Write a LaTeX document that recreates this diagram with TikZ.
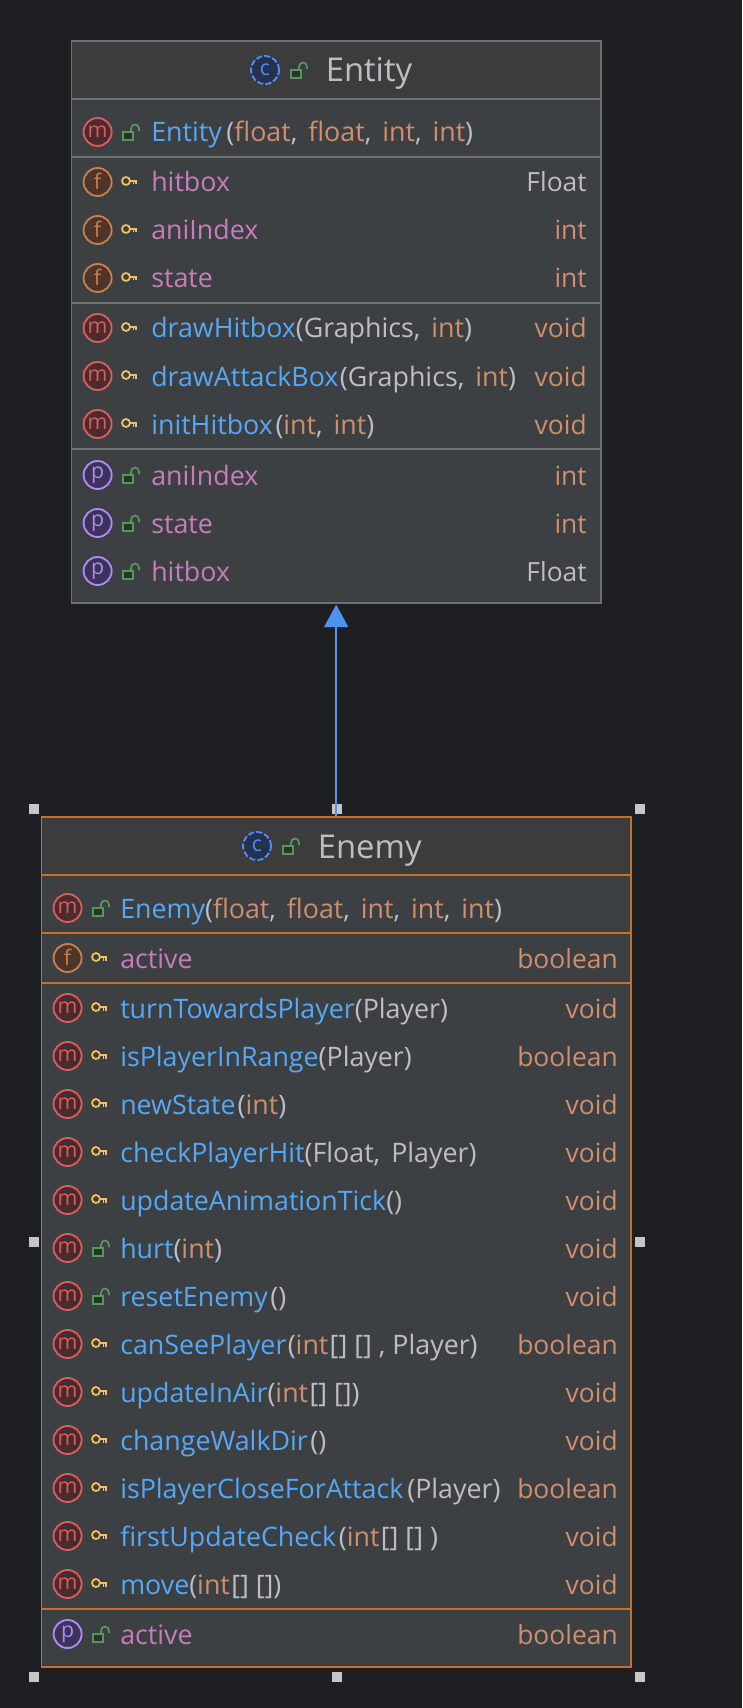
\documentclass[tikz,border=0pt]{standalone}
\usepackage{fontspec}
\setmainfont{Open Sans}
\usetikzlibrary{arrows.meta}
\definecolor{bgc}{HTML}{1E1F22}
\definecolor{headc}{HTML}{3C3C3C}
\definecolor{bodyc}{HTML}{3D4043}
\definecolor{grayline}{HTML}{6F7073}
\definecolor{orangeline}{HTML}{C4702B}
\definecolor{tblue}{HTML}{56A8F5}
\definecolor{arrowc}{HTML}{4D94F0}
\definecolor{tpurple}{HTML}{C77DBB}
\definecolor{torange}{HTML}{CF8E6D}
\definecolor{tgray}{HTML}{BCBEC4}
\definecolor{handlec}{HTML}{C6C6C6}
\definecolor{mline}{HTML}{DB5C5C}\definecolor{mfill}{HTML}{4A2B2E}
\definecolor{fline}{HTML}{C77F50}\definecolor{ffill}{HTML}{4D3529}
\definecolor{pline}{HTML}{B189F5}\definecolor{pfill}{HTML}{3B3358}
\definecolor{cline}{HTML}{548AF7}\definecolor{cfill}{HTML}{25324D}
\definecolor{lockc}{HTML}{57965C}\definecolor{lockf}{HTML}{253627}
\definecolor{keyc}{HTML}{F2C55C}
\newcommand{\nm}[1]{\textcolor{tblue}{#1}}
\newcommand{\fd}[1]{\textcolor{tpurple}{#1}}
\newcommand{\ty}[1]{\textcolor{torange}{#1}}
\newcommand{\gy}[1]{\textcolor{tgray}{#1}}
\newcommand{\cmm}{\gy{, }\kern3pt}
\tikzset{
  x=0.75pt,y=-0.75pt,
  classbox/.style={draw=#1,fill=bodyc,line width=1.125pt,inner sep=0pt,rectangle},
  divider/.style={draw=#1,line width=1.5pt},
  rowtext/.style={inner sep=0pt,font=\fontsize{20.1pt}{24pt}\selectfont},
  typetext/.style={inner sep=0pt,font=\fontsize{19.8pt}{24pt}\selectfont},
  titletext/.style={inner sep=0pt,text=tgray,font=\fontsize{24.6pt}{29pt}\selectfont},
  badge/.style={circle,inner sep=0pt,minimum size=21pt,line width=1.4pt,font=\fontsize{16pt}{18pt}\selectfont},
  m/.style={badge,draw=mline,fill=mfill,text=mline},
  f/.style={badge,draw=fline,fill=ffill,text=fline},
  p/.style={badge,draw=pline,fill=pfill,text=pline},
  cbadge/.style={badge,draw=cline,fill=cfill,text=cline,dash pattern=on 4.6pt off 1.6pt},
  handle/.style={fill=handlec,inner sep=0pt,minimum size=7.5pt,rectangle},
  lockmark/.pic={
    \draw[lockc,line width=1.3pt,fill=lockf] (-8,0) rectangle (2,8);
    \draw[lockc,line width=1.3pt] (0,0) -- (0,-3) .. controls (0,-9) and (8,-9) .. (8,-3) -- (8,-1);
  },
  keymark/.pic={
    \draw[keyc,line width=1.3pt] (-3,-1) circle[radius=3pt];
    \draw[keyc,line width=1.3pt] (1.2,-1) -- (8,-1) (4.5,-1) -- (4.5,2.5) (7.3,-1) -- (7.3,2.5);
  },
}
% class row: name, badge, marker pic, centre y, left text, right text
\newcommand{\classrow}[6]{%
  \node[#2] (#1-icon) at (\ix,#4) {\raisebox{0.9pt}{#2}};
  \pic at (\csname #3x\endcsname,#4) {#3};
  \node[rowtext,anchor=base west] (#1-text) at (\tx,#4+10) {#5};
  \node[typetext,anchor=base east] (#1-type) at (\rx,#4+10) {#6};
}
\begin{document}
\begin{tikzpicture}
\useasboundingbox (0,0) rectangle (742,1708);
\fill[bgc] (0,0) rectangle (742,1708);
% ---------- Entity
\node[classbox=grayline,minimum width=397pt,minimum height=421.5pt] (entity) at (336.2,322) {};
\fill[headc] (72.2,41.8) rectangle (600.2,98);
\foreach \yy in {99,157,303,449} \draw[divider=grayline] (72.2,\yy) -- (600.2,\yy);
\node[cbadge] (entity-c) at (265,70) {\raisebox{0.9pt}{c}};
\pic at (299,70) {lockmark};
\node[titletext,anchor=base west] (entity-title) at (325.5,82) {Entity};
\def\ix{97.6}\def\lockmarkx{131}\def\keymarkx{129}\def\tx{151}\def\rx{587}
\classrow{e1}{m}{lockmark}{132}{\nm{Entity}\kern3.5pt\gy{(}\ty{float}\cmm\ty{float}\cmm\ty{int}\cmm\ty{int}\gy{)}}{}
\classrow{e2}{f}{keymark}{182}{\fd{hitbox}}{\gy{Float}}
\classrow{e3}{f}{keymark}{230}{\fd{aniIndex}}{\ty{int}}
\classrow{e4}{f}{keymark}{278}{\fd{state}}{\ty{int}}
\classrow{e5}{m}{keymark}{328}{\nm{drawHitbox}\gy{(Graphics}\cmm\ty{int}\gy{)}}{\ty{void}}
\classrow{e6}{m}{keymark}{376}{\nm{drawAttackBox}\kern1pt\gy{(Graphics}\cmm\ty{int}\gy{)}}{\ty{void}}
\classrow{e7}{m}{keymark}{424}{\nm{initHitbox}\kern2pt\gy{(}\ty{int}\cmm\ty{int}\gy{)}}{\ty{void}}
\classrow{e8}{p}{lockmark}{475}{\fd{aniIndex}}{\ty{int}}
\classrow{e9}{p}{lockmark}{523}{\fd{state}}{\ty{int}}
\classrow{e10}{p}{lockmark}{571}{\fd{hitbox}}{\gy{Float}}
% ---------- Enemy
\node[classbox=orangeline,minimum width=442pt,minimum height=637.5pt] (enemy) at (336.2,1242) {};
\fill[headc] (42.2,818) rectangle (630.2,874);
\foreach \yy in {875,933,983,1609} \draw[divider=orangeline] (42.2,\yy) -- (630.2,\yy);
\node[cbadge] (enemy-c) at (257,846) {\raisebox{0.9pt}{c}};
\pic at (291,846) {lockmark};
\node[titletext,anchor=base west] (enemy-title) at (317.5,858) {Enemy};
\def\ix{67.6}\def\lockmarkx{101}\def\keymarkx{99}\def\tx{120}\def\rx{618}
\classrow{n1}{m}{lockmark}{908}{\nm{Enemy}\gy{(}\ty{float}\cmm\ty{float}\cmm\ty{int}\cmm\ty{int}\cmm\ty{int}\gy{)}}{}
\classrow{n2}{f}{keymark}{958}{\fd{active}}{\ty{boolean}}
\classrow{n3}{m}{keymark}{1008}{\nm{turnTowardsPlayer}\gy{(Player)}}{\ty{void}}
\classrow{n4}{m}{keymark}{1056}{\nm{isPlayerInRange}\gy{(Player)}}{\ty{boolean}}
\classrow{n5}{m}{keymark}{1104}{\nm{newState}\kern1.5pt\gy{(}\ty{int}\gy{)}}{\ty{void}}
\classrow{n6}{m}{keymark}{1152}{\nm{checkPlayerHit}\gy{(Float}\cmm\gy{Player)}}{\ty{void}}
\classrow{n7}{m}{keymark}{1200}{\nm{updateAnimationTick}\gy{()}}{\ty{void}}
\classrow{n8}{m}{lockmark}{1248}{\nm{hurt}\gy{(}\ty{int}\gy{)}}{\ty{void}}
\classrow{n9}{m}{lockmark}{1296}{\nm{resetEnemy}\kern2pt\gy{()}}{\ty{void}}
\classrow{n10}{m}{keymark}{1344}{\nm{canSeePlayer}\kern1pt\gy{(}\ty{int}\kern1pt\gy{[] [] , Player)}}{\ty{boolean}}
\classrow{n11}{m}{keymark}{1392}{\nm{updateInAir}\gy{(}\ty{int}\kern1pt\gy{[] [])}}{\ty{void}}
\classrow{n12}{m}{keymark}{1440}{\nm{changeWalkDir}\kern2pt\gy{()}}{\ty{void}}
\classrow{n13}{m}{keymark}{1488}{\nm{isPlayerCloseForAttack}\kern3pt\gy{(Player)}}{\ty{boolean}}
\classrow{n14}{m}{keymark}{1536}{\nm{firstUpdateCheck}\kern2pt\gy{(}\ty{int}\kern1pt\gy{[] [] )}}{\ty{void}}
\classrow{n15}{m}{keymark}{1584}{\nm{move}\gy{(}\ty{int}\kern1pt\gy{[] [])}}{\ty{void}}
\classrow{n16}{p}{lockmark}{1634}{\fd{active}}{\ty{boolean}}
% ---------- selection handles
\node[handle] (h1) at (34,809) {};
\node[handle] (h2) at (336.5,809) {};
\node[handle] (h3) at (640,809) {};
\node[handle] (h4) at (34,1242) {};
\node[handle] (h5) at (640,1242) {};
\node[handle] (h6) at (34,1677) {};
\node[handle] (h7) at (336.5,1677) {};
\node[handle] (h8) at (640,1677) {};
% ---------- inheritance
\draw[arrowc,line width=1.5pt,shorten >=0.6pt,-{Triangle[width=18pt,length=17pt]}] (enemy.north) -- (entity.south);
\end{tikzpicture}
\end{document}
